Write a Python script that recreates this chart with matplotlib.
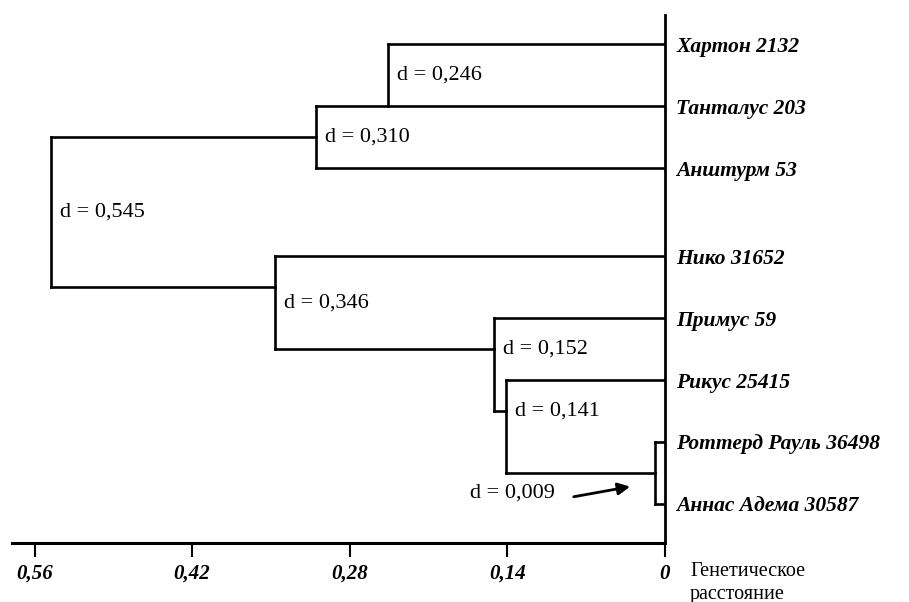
import matplotlib

matplotlib.use("Agg")
import matplotlib.pyplot as plt

plt.rcParams["font.family"] = ["Liberation Serif", "DejaVu Serif"]

# leaves, top to bottom
LEAVES = [
    "Хартон 2132",
    "Танталус 203",
    "Анштурм 53",
    "Нико 31652",
    "Примус 59",
    "Рикус 25415",
    "Роттерд Рауль 36498",
    "Аннас Адема 30587",
]
# merges: leaf ids 0..7, new cluster ids 8.. in merge order
MERGE_A = [0, 8, 6, 5, 4, 3, 9]
MERGE_B = [1, 2, 7, 10, 11, 12, 13]
DIST = [0.246, 0.310, 0.009, 0.141, 0.152, 0.346, 0.545]
DIST_LABELS = ["d = 0,246", "d = 0,310", "d = 0,009", "d = 0,141",
               "d = 0,152", "d = 0,346", "d = 0,545"]
TICK_VALS = [0.56, 0.42, 0.28, 0.14, 0]
TICK_LABELS = ["0,56", "0,42", "0,28", "0,14", "0"]

# layout: where the parent link hooks onto a cluster bracket (0 = top, 1 = bottom)
ATTACH = [1.0, 0.5, 0.5, 1 / 3, 1 / 3, 1 / 3, 0.5]
# label position inside each bracket (0 = top, 1 = bottom)
LABEL_POS = [0.5, 0.5, 0.5, 1 / 3, 1 / 3, 0.5, 0.5]
GAP_AFTER = 3
LW = 1.9


def main() -> None:
    fig = plt.figure(figsize=(9.09, 6.02), dpi=100)
    ax = fig.add_axes([12 / 909, 59 / 602, 653 / 909, 528 / 602])

    ys = {i: i + (0.42 if i >= GAP_AFTER else 0) for i in range(len(LEAVES))}
    xs = {i: 0.0 for i in range(len(LEAVES))}

    for k, (a, b, h) in enumerate(zip(MERGE_A, MERGE_B, DIST)):
        ya, yb = ys[a], ys[b]
        kw = dict(color="black", lw=LW, solid_capstyle="projecting")
        ax.plot([xs[a], h], [ya, ya], **kw)
        ax.plot([xs[b], h], [yb, yb], **kw)
        ax.plot([h, h], [ya, yb], **kw)
        node = len(LEAVES) + k
        ys[node] = ya + (yb - ya) * ATTACH[k]
        xs[node] = h
        ly = ya + (yb - ya) * LABEL_POS[k]
        if h < 0.05:
            ax.annotate(DIST_LABELS[k], xy=(h + 0.022, ly + 0.22),
                        xytext=(-118, -6), textcoords="offset pixels",
                        ha="center", va="center", fontsize=16,
                        arrowprops=dict(arrowstyle="-|>", color="black", lw=2,
                                        mutation_scale=18, shrinkA=12, shrinkB=0,
                                        relpos=(1, 0.1)))
        else:
            ax.text(h - 0.008, ly, DIST_LABELS[k], ha="left", va="center", fontsize=16)

    ax.set_xlim(0.580, 0)
    ax.set_ylim(8.05, -0.47)

    ax.spines["top"].set_visible(False)
    ax.spines["left"].set_visible(False)
    ax.spines["bottom"].set_linewidth(2.2)
    ax.spines["right"].set_linewidth(2.0)

    ax.set_xticks(TICK_VALS)
    ax.set_xticklabels(TICK_LABELS, fontsize=15, fontweight="bold", fontstyle="italic")
    ax.tick_params(axis="x", direction="out", length=10, width=1.5, pad=5)

    ax.yaxis.tick_right()
    ax.set_yticks([ys[i] for i in range(len(LEAVES))])
    ax.set_yticklabels(LEAVES, fontsize=15.5, fontweight="bold", fontstyle="italic")
    ax.tick_params(axis="y", length=0, pad=8)

    fig.text(690 / 909, 1 - 572 / 602, "Генетическое", fontsize=14.5, va="center", ha="left")
    fig.text(690 / 909, 1 - 594 / 602, "расстояние", fontsize=14.5, va="center", ha="left")

    fig.savefig("out.png", dpi=100)
    plt.close(fig)


if __name__ == "__main__":
    main()
